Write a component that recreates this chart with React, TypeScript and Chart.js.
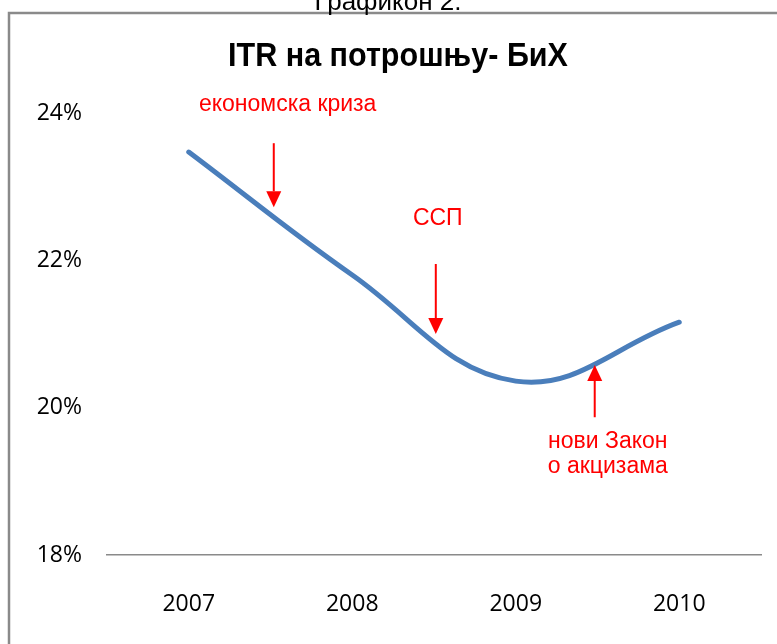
import React, { useEffect, useRef } from "react";
import { Chart, registerables } from "chart.js";

Chart.register(...registerables);

const categories = ["2007", "2008", "2009", "2010"];
const itrValues = [23.47, 21.8, 20.36, 21.16];
const yTicks = [18, 20, 22, 24];

const pageCaption = "Графикон 2.";
const chartTitle = "ITR на потрошњу- БиХ";

// annotation anchors in data space: x = category index (fractional), y = percent
const noteTexts = [
  { lines: ["економска криза"], x: 0.605, y: 24.11 },
  { lines: ["ССП"], x: 1.523, y: 22.57 },
  { lines: ["нови Закон", "о акцизама"], x: 2.563, y: 19.54 },
];
const arrows = [
  { x: 0.52, yFrom: 23.59, yTo: 22.72 },
  { x: 1.511, yFrom: 21.95, yTo: 21.0 },
  { x: 2.483, yFrom: 19.87, yTo: 20.58 },
];

const decorPlugin = {
  id: "decor",
  beforeDraw(chart: any) {
    const ctx = chart.ctx;
    ctx.save();
    ctx.fillStyle = "#ffffff";
    ctx.fillRect(0, 0, chart.width, chart.height);
    ctx.strokeStyle = "#8a8a8a";
    ctx.lineWidth = 2.5;
    ctx.strokeRect(9, 13, chart.width + 20, chart.height + 20);
    ctx.fillStyle = "#000000";
    ctx.textAlign = "center";
    ctx.textBaseline = "alphabetic";
    ctx.font = "26px 'Liberation Sans', Arial, sans-serif";
    ctx.fillText(pageCaption, 388, 10);
    ctx.save();
    ctx.translate(398, 66);
    ctx.scale(0.925, 1);
    ctx.font = "bold 33px 'Liberation Sans', Arial, sans-serif";
    ctx.fillText(chartTitle, 0, 0);
    ctx.restore();
    ctx.restore();
  },
  afterDatasetsDraw(chart: any) {
    const ctx = chart.ctx;
    const xs = chart.scales.x;
    const ys = chart.scales.y;
    ctx.save();
    ctx.fillStyle = "#ff0000";
    ctx.strokeStyle = "#ff0000";
    ctx.font = "23px 'Liberation Sans', Arial, sans-serif";
    ctx.textAlign = "center";
    ctx.textBaseline = "middle";
    noteTexts.forEach((n) => {
      const px = xs.getPixelForValue(n.x);
      const py = ys.getPixelForValue(n.y);
      n.lines.forEach((l, i) => ctx.fillText(l, px, py + i * 25));
    });
    arrows.forEach((a) => {
      const px = xs.getPixelForValue(a.x);
      const p1 = ys.getPixelForValue(a.yFrom);
      const p2 = ys.getPixelForValue(a.yTo);
      const dir = p2 > p1 ? 1 : -1;
      const headLen = 16;
      const headHalf = 7.5;
      ctx.lineWidth = 2;
      ctx.beginPath();
      ctx.moveTo(px, p1);
      ctx.lineTo(px, p2 - dir * headLen);
      ctx.stroke();
      ctx.beginPath();
      ctx.moveTo(px - headHalf, p2 - dir * headLen);
      ctx.lineTo(px + headHalf, p2 - dir * headLen);
      ctx.lineTo(px, p2);
      ctx.closePath();
      ctx.fill();
    });
    ctx.restore();
  },
};

export default function App() {
  const ref = useRef<HTMLCanvasElement>(null);
  useEffect(() => {
    document.body.style.margin = "0";
    const canvas = ref.current!;
    const chart = new Chart(canvas, {
      type: "line",
      data: {
        labels: categories,
        datasets: [
          {
            data: itrValues,
            borderColor: "#4a7ebb",
            borderWidth: 5,
            tension: 0.4,
            pointRadius: 0,
            borderCapStyle: "round",
            fill: false,
          },
        ],
      },
      options: {
        animation: false,
        responsive: false,
        devicePixelRatio: 1,
        layout: { padding: { left: 0, top: 113, right: 16, bottom: 0 } },
        plugins: { legend: { display: false }, title: { display: false }, tooltip: { enabled: false } },
        scales: {
          x: {
            offset: true,
            grid: { display: false, drawTicks: false },
            border: { display: true, color: "#8a8a8a", width: 1.5 },
            ticks: {
              color: "#000000",
              padding: 36,
              font: { family: "'Open Sans', sans-serif", size: 23 },
              maxRotation: 0,
            },
            afterFit(scale: any) {
              scale.height = 644 - 555;
            },
          },
          y: {
            min: 18,
            max: 24,
            afterBuildTicks(scale: any) {
              scale.ticks = yTicks.map((v) => ({ value: v }));
            },
            grid: { display: false, drawTicks: false },
            border: { display: false },
            ticks: {
              color: "#000000",
              padding: 25,
              font: { family: "'Open Sans', sans-serif", size: 23 },
              callback: (v: any) => v + "%",
            },
            afterFit(scale: any) {
              scale.width = 107;
            },
          },
        },
      },
      plugins: [decorPlugin],
    } as any);
    return () => chart.destroy();
  }, []);
  return <canvas ref={ref} width={777} height={644} style={{ display: "block" }} />;
}
